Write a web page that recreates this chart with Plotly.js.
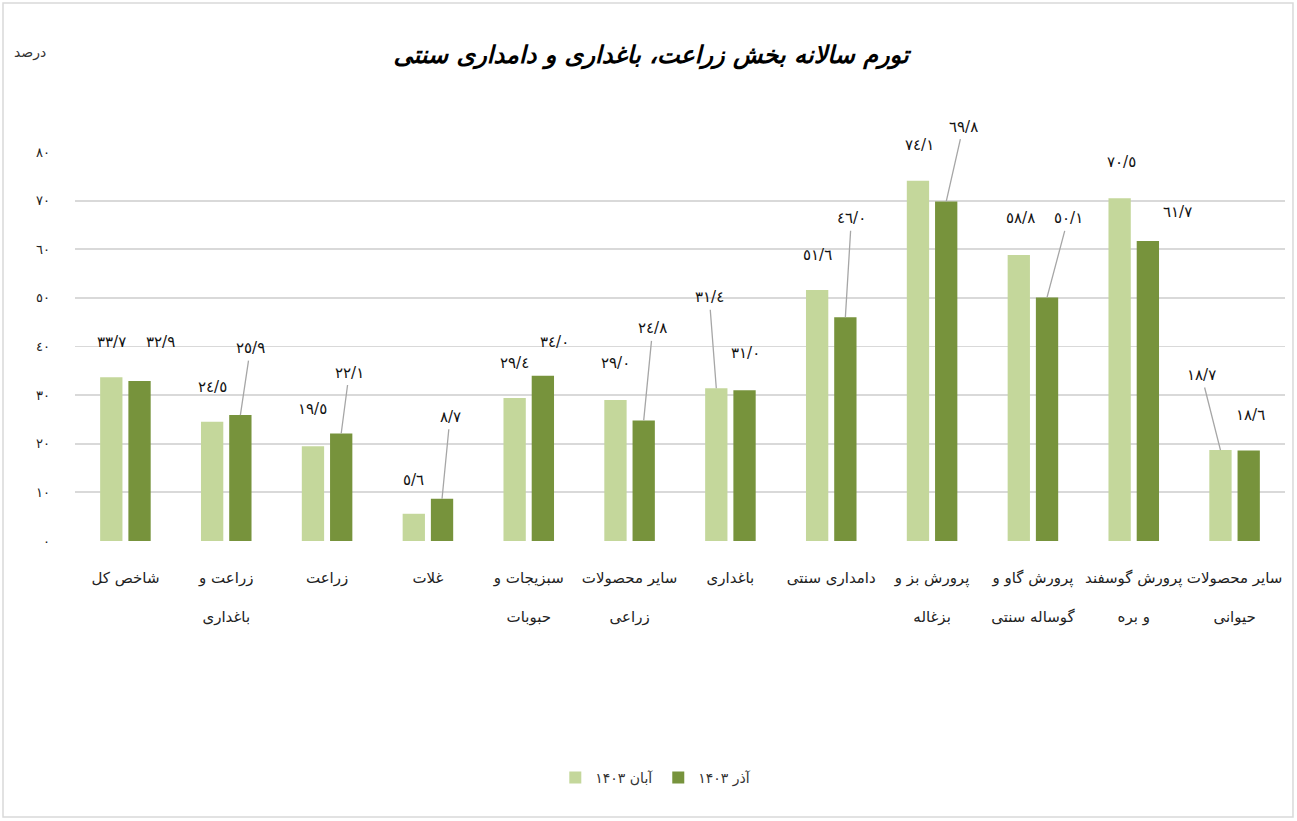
<!DOCTYPE html>
<html>
<head>
<meta charset="utf-8">
<script src="https://cdn.plot.ly/plotly-3.0.1.min.js"></script>
<style>html,body{margin:0;padding:0;background:#fff}#chart{width:1297px;height:821px}</style>
</head>
<body>
<div id="chart"></div>
<script>
// ---- data ----
const categories = [
  "شاخص کل",
  "زراعت و<br>باغداری",
  "زراعت",
  "غلات",
  "سبزیجات و<br>حبوبات",
  "سایر محصولات<br>زراعی",
  "باغداری",
  "دامداری سنتی",
  "پرورش بز و<br>بزغاله",
  "پرورش گاو و<br>گوساله سنتی",
  "پرورش گوسفند<br>و بره",
  "سایر محصولات<br>حیوانی"
];
const seriesNames = ["آبان ۱۴۰۳", "آذر ۱۴۰۳"];
const aban1403 = [33.7, 24.5, 19.5, 5.6, 29.4, 29.0, 31.4, 51.6, 74.1, 58.8, 70.5, 18.7];
const azar1403 = [32.9, 25.9, 22.1, 8.7, 34.0, 24.8, 31.0, 46.0, 69.8, 50.1, 61.7, 18.6];
const yTickVals = [0, 10, 20, 30, 40, 50, 60, 70, 80];

// ---- label placement (pixel offsets from bar top; leader line flag) ----
const offLight = [[0,-35],[0,-35],[0,-37],[0,-34],[0,-35],[0,-37],[-7,-91],[0,-35],[2,-36],[2,-37],[2,-36],[-19,-75]];
const leadLight = [0,0,0,0,0,0,1,0,0,0,0,1];
const offDark = [[21,-39],[10,-67],[8,-61],[8,-82],[12,-34],[9,-92],[1,-37],[6,-99],[17,-75],[21,-79],[30,-29],[2,-36]];
const leadDark = [0,1,1,1,0,1,0,1,1,1,0,0];

const arDigits = "٠١٢٣٤٥٦٧٨٩";
function toAr(s){ return String(s).replace(/[0-9]/g, d => arDigits[+d]); }
function fmt(v){ return toAr(v.toFixed(1)).replace(".", "/"); }

const lightColor = "#c4d79b";
const darkColor = "#77933c";
const FONT = "DejaVu Sans, Noto Sans, sans-serif";

const xIdx = categories.map((_, i) => i);
const tickText = categories.map(c => c.replace("<br>", "<br><br>"));

const traces = [
  {type: "bar", name: seriesNames[0], x: xIdx, y: aban1403, marker: {color: lightColor}, hoverinfo: "y"},
  {type: "bar", name: seriesNames[1], x: xIdx, y: azar1403, marker: {color: darkColor}, hoverinfo: "y"}
];

const annotations = [];
function addLabels(vals, offs, leads, shift){
  vals.forEach((v, i) => {
    annotations.push({
      x: i + shift, y: v, xref: "x", yref: "y",
      text: fmt(v), showarrow: true,
      ax: offs[i][0], ay: offs[i][1],
      arrowhead: 0, arrowwidth: 1.3, standoff: 0, startstandoff: 2,
      arrowcolor: leads[i] ? "#a6a6a6" : "rgba(0,0,0,0)",
      font: {family: FONT, size: 15, color: "#111"}
    });
  });
}
addLabels(aban1403, offLight, leadLight, -0.14);
addLabels(azar1403, offDark, leadDark, 0.14);

annotations.push({
  xref: "paper", yref: "paper", x: -0.037, y: 1.255, xanchor: "center", yanchor: "middle",
  text: "درصد", showarrow: false, font: {family: FONT, size: 14, color: "#333"}
});

const layout = {
  width: 1297, height: 821,
  margin: {l: 75, r: 12, t: 152, b: 280},
  paper_bgcolor: "#fff", plot_bgcolor: "#fff",
  barmode: "group", bargap: 0.44, bargroupgap: 0.21,
  title: {
    text: "<b><i>تورم سالانه بخش زراعت، باغداری و دامداری سنتی</i></b>",
    x: 0.502, xref: "container", y: 0.933, yref: "container", yanchor: "middle",
    font: {family: FONT, size: 24, color: "#000"}
  },
  xaxis: {
    tickmode: "array", tickvals: xIdx, ticktext: tickText,
    range: [-0.5, 11.5], showgrid: false, zeroline: false,
    showline: false, ticks: "", ticklabelstandoff: 26,
    tickfont: {family: FONT, size: 15, color: "#222"}
  },
  yaxis: {
    range: [0, 80], tickmode: "array", tickvals: yTickVals, ticktext: yTickVals.map(toAr),
    showgrid: true, gridcolor: "#d9d9d9", gridwidth: 1.8, zeroline: false,
    showline: false, ticks: "", ticklabelstandoff: 24,
    tickfont: {family: FONT, size: 13, color: "#222"}
  },
  legend: {
    orientation: "h", x: 0.48, xanchor: "center", y: -0.609, yanchor: "middle",
    font: {family: FONT, size: 14, color: "#333"}, itemwidth: 30
  },
  annotations: annotations,
  shapes: [{
    type: "rect", xref: "paper", yref: "paper",
    x0: -0.0595, x1: 1.0066, y0: -0.7095, y1: 1.383,
    line: {color: "#d9d9d9", width: 1.5}, fillcolor: "rgba(0,0,0,0)", layer: "below"
  }],
  showlegend: true
};

Plotly.newPlot("chart", traces, layout, {displayModeBar: false, staticPlot: true});
</script>
</body>
</html>
